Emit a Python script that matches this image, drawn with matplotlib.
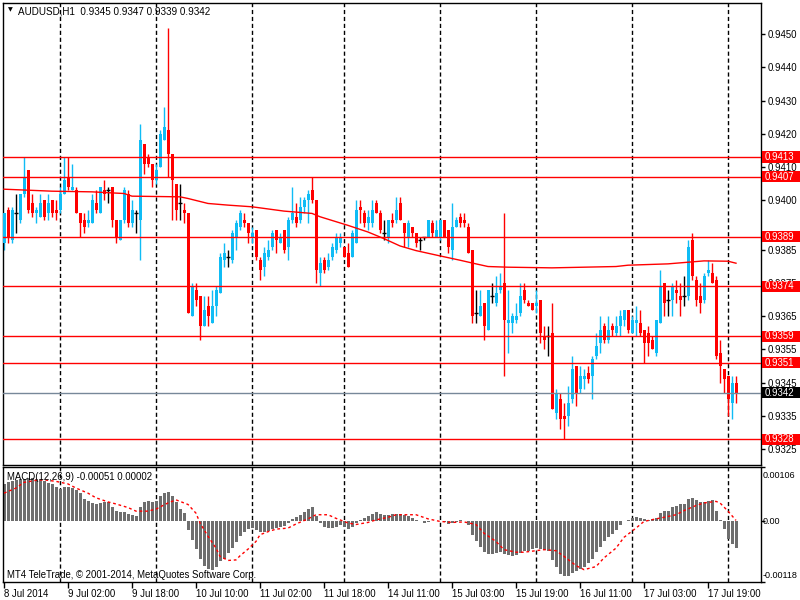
import numpy as np
import matplotlib
matplotlib.use('Agg')
import matplotlib.pyplot as plt
import matplotlib.transforms as mtransforms
from matplotlib.patches import Rectangle

plt.rcParams['font.family'] = ['Liberation Sans', 'DejaVu Sans']
FS = 6.9

# AUDUSD H1 quotes, in pips (1e-4), bar 0 = 8 Jul 2014 10:00
opens = [9387, 9397, 9388, 9396, 9394, 9402, 9409, 9399, 9396, 9395,
         9400, 9396, 9400, 9397, 9397, 9402, 9407, 9403, 9403, 9396,
         9394, 9393, 9393, 9399, 9396, 9403, 9403, 9404, 9394, 9388,
         9394, 9402, 9393, 9396, 9394, 9417, 9413, 9411, 9406, 9410,
         9418, 9421, 9414, 9405, 9399, 9397, 9396, 9365, 9373, 9371,
         9362, 9368, 9363, 9368, 9372, 9382, 9383, 9382, 9389, 9392,
         9394, 9393, 9389, 9391, 9382, 9380, 9383, 9386, 9391, 9387,
         9391, 9386, 9394, 9395, 9394, 9398, 9400, 9403, 9400, 9378,
         9382, 9380, 9383, 9385, 9387, 9386, 9384, 9383, 9387, 9398,
         9396, 9393, 9393, 9399, 9396, 9390, 9389, 9394, 9394, 9399,
         9393, 9389, 9392, 9390, 9388, 9389, 9389, 9393, 9389, 9389,
         9394, 9391, 9385, 9392, 9395, 9394, 9392, 9385, 9366, 9365,
         9369, 9361, 9371, 9369, 9373, 9375, 9363, 9363, 9364, 9366,
         9373, 9369, 9369, 9368, 9370, 9359, 9359, 9360, 9336, 9340,
         9335, 9335, 9340, 9350, 9343, 9346, 9348, 9347, 9353, 9357,
         9362, 9358, 9362, 9360, 9362, 9364, 9367, 9360, 9363, 9363,
         9361, 9360, 9358, 9354, 9363, 9375, 9370, 9370, 9373, 9371,
         9371, 9371, 9388, 9376, 9371, 9370, 9378, 9378, 9376, 9354,
         9349, 9347, 9339, 9345]
highs = [9396, 9398, 9398, 9402, 9402, 9413, 9409, 9402, 9398, 9402,
         9400, 9402, 9400, 9400, 9404, 9413, 9413, 9411, 9404, 9396,
         9396, 9397, 9402, 9403, 9404, 9406, 9404, 9404, 9394, 9394,
         9404, 9403, 9400, 9397, 9423, 9417, 9414, 9411, 9411, 9421,
         9428, 9452, 9414, 9405, 9405, 9399, 9396, 9375, 9375, 9371,
         9371, 9371, 9373, 9374, 9384, 9387, 9385, 9391, 9394, 9397,
         9396, 9393, 9392, 9391, 9383, 9386, 9388, 9391, 9391, 9390,
         9391, 9395, 9404, 9399, 9401, 9401, 9403, 9407, 9400, 9383,
         9383, 9384, 9387, 9390, 9390, 9386, 9387, 9391, 9400, 9400,
         9397, 9397, 9400, 9400, 9397, 9394, 9394, 9396, 9401, 9401,
         9393, 9394, 9392, 9390, 9389, 9389, 9394, 9394, 9394, 9394,
         9394, 9391, 9399, 9395, 9396, 9396, 9393, 9385, 9373, 9373,
         9369, 9373, 9375, 9377, 9378, 9396, 9373, 9366, 9369, 9375,
         9375, 9370, 9369, 9373, 9370, 9362, 9362, 9369, 9343, 9342,
         9339, 9344, 9353, 9350, 9350, 9349, 9350, 9353, 9360, 9365,
         9363, 9365, 9363, 9365, 9367, 9367, 9367, 9365, 9368, 9367,
         9361, 9362, 9359, 9364, 9379, 9375, 9373, 9375, 9376, 9375,
         9377, 9388, 9390, 9377, 9375, 9378, 9382, 9381, 9377, 9358,
         9349, 9347, 9347, 9347]
lows = [9385, 9387, 9387, 9390, 9393, 9401, 9396, 9395, 9393, 9395,
        9394, 9394, 9395, 9394, 9396, 9402, 9403, 9403, 9396, 9389,
        9390, 9392, 9393, 9396, 9396, 9400, 9399, 9392, 9387, 9388,
        9393, 9392, 9392, 9390, 9382, 9408, 9410, 9404, 9405, 9410,
        9418, 9407, 9394, 9394, 9394, 9393, 9366, 9365, 9368, 9358,
        9362, 9362, 9363, 9365, 9372, 9380, 9380, 9381, 9385, 9391,
        9392, 9387, 9387, 9382, 9376, 9377, 9382, 9385, 9384, 9387,
        9384, 9382, 9393, 9392, 9393, 9396, 9393, 9399, 9375, 9374,
        9378, 9379, 9382, 9384, 9386, 9383, 9380, 9383, 9387, 9393,
        9392, 9391, 9392, 9396, 9390, 9388, 9387, 9392, 9393, 9394,
        9386, 9386, 9389, 9386, 9385, 9388, 9389, 9389, 9389, 9388,
        9389, 9384, 9382, 9392, 9392, 9392, 9384, 9363, 9363, 9365,
        9358, 9361, 9369, 9368, 9372, 9347, 9354, 9360, 9363, 9365,
        9369, 9368, 9367, 9366, 9357, 9355, 9353, 9337, 9334, 9331,
        9328, 9332, 9339, 9338, 9342, 9343, 9345, 9340, 9352, 9354,
        9357, 9357, 9359, 9359, 9359, 9362, 9360, 9360, 9359, 9359,
        9351, 9353, 9355, 9353, 9363, 9365, 9365, 9365, 9369, 9365,
        9368, 9370, 9376, 9368, 9366, 9369, 9377, 9375, 9352, 9345,
        9342, 9335, 9334, 9339]
closes = [9396, 9389, 9397, 9396, 9402, 9407, 9397, 9396, 9397, 9399,
          9395, 9399, 9396, 9396, 9402, 9406, 9404, 9404, 9396, 9393,
          9392, 9394, 9400, 9397, 9404, 9402, 9403, 9394, 9389, 9394,
          9403, 9393, 9397, 9396, 9418, 9411, 9411, 9406, 9409, 9420,
          9422, 9414, 9406, 9397, 9399, 9396, 9366, 9374, 9370, 9362,
          9367, 9365, 9368, 9373, 9383, 9384, 9383, 9390, 9393, 9396,
          9393, 9390, 9390, 9383, 9379, 9384, 9385, 9390, 9388, 9389,
          9385, 9394, 9396, 9393, 9398, 9400, 9402, 9400, 9379, 9381,
          9379, 9382, 9386, 9389, 9389, 9383, 9380, 9390, 9397, 9397,
          9393, 9395, 9397, 9396, 9391, 9390, 9394, 9393, 9397, 9394,
          9390, 9393, 9390, 9387, 9388, 9389, 9394, 9390, 9391, 9394,
          9389, 9386, 9392, 9394, 9393, 9393, 9384, 9365, 9366, 9368,
          9362, 9373, 9371, 9372, 9374, 9364, 9364, 9365, 9365, 9371,
          9370, 9368, 9367, 9369, 9360, 9358, 9359, 9337, 9342, 9334,
          9334, 9339, 9349, 9342, 9347, 9347, 9346, 9352, 9356, 9361,
          9358, 9361, 9361, 9362, 9365, 9367, 9361, 9364, 9364, 9360,
          9357, 9357, 9355, 9364, 9374, 9369, 9370, 9374, 9372, 9370,
          9371, 9386, 9377, 9370, 9369, 9377, 9379, 9375, 9353, 9350,
          9346, 9340, 9345, 9342]

# moving average drawn on the price chart (bar index, pips)
ma_idx = [0, 12, 22, 30, 32, 44, 46, 51, 56, 62, 70, 77, 79, 86, 91, 95, 99,
          103, 109, 114, 118, 121, 126, 137, 153, 156, 166, 171, 175, 181, 183]
ma_val = [9403.3, 9402.7, 9402.5, 9402.0, 9401.2, 9401.0, 9400.5, 9399.0,
          9398.5, 9398.0, 9396.7, 9396.0, 9395.0, 9392.4, 9390.4, 9388.4,
          9386.2, 9384.8, 9383.2, 9381.9, 9380.8, 9380.0, 9379.8, 9379.6,
          9380.0, 9380.4, 9380.8, 9381.3, 9381.7, 9381.6, 9381.0]

# MACD(12,26,9) histogram, in 1e-5
macd = [72, 76, 78, 81, 83, 83, 85, 85, 83, 81, 78, 75, 72, 67, 64, 67, 68, 66,
        62, 55, 44, 39, 36, 34, 36, 37, 37, 29, 21, 18, 18, 14, 12, 10, 29, 38,
        39, 37, 39, 49, 55, 57, 49, 37, 24, 16, -16, -36, -54, -73, -86, -93,
        -94, -88, -78, -73, -62, -52, -41, -29, -20, -15, -13, -16, -20, -20,
        -18, -15, -12, -10, -8, -3, 5, 8, 13, 18, 24, 29, 10, -3, -10, -13,
        -13, -10, -6, -10, -15, -10, -3, 3, 6, 11, 15, 18, 15, 13, 13, 14, 15,
        15, 13, 11, 6, 2, 0, -3, -1, 0, 1, 0, -2, -5, -3, -1, 2, 1, -6, -26,
        -39, -50, -60, -63, -63, -62, -60, -63, -66, -67, -66, -62, -58, -57,
        -54, -52, -54, -55, -58, -76, -88, -102, -107, -106, -101, -96, -93,
        -88, -81, -73, -60, -50, -39, -31, -24, -16, -6, 0, 3, 6, 8, 6, 5, 2,
        5, 6, 16, 20, 21, 28, 31, 33, 33, 44, 46, 42, 37, 38, 39, 41, 20, 3,
        -14, -34, -44, -51]
sig_idx = [0, 3, 5, 8, 10, 13, 16, 18, 21, 23, 26, 28, 31, 33, 36, 38, 41, 43,
           46, 48, 49, 51, 53, 54, 56, 58, 59, 61, 63, 64, 66, 68, 71, 73, 76,
           78, 81, 83, 86, 88, 91, 93, 96, 98, 103, 106, 109, 112, 115, 118,
           120, 123, 125, 128, 130, 133, 135, 138, 140, 143, 145, 148, 150,
           153, 155, 158, 160, 163, 165, 168, 170, 173, 175, 178, 179, 181, 183]
sig_val = [55, 65, 76, 80, 81, 78, 73, 65, 55, 46, 38, 34, 27, 20, 20, 24, 36,
           42, 33, 16, -3, -29, -52, -68, -76, -75, -67, -54, -39, -26, -20,
           -15, -13, -5, 5, 13, 13, 6, -3, -6, -2, 3, 8, 13, 13, 5, 0, -2, -1,
           -6, -23, -39, -55, -60, -60, -57, -55, -57, -68, -86, -94, -88, -71,
           -52, -31, -13, 0, 5, 8, 13, 21, 31, 36, 39, 36, 20, 2]

# horizontal levels drawn on the chart
levels = [0.9413, 0.9407, 0.9389, 0.9374, 0.9359, 0.9351, 0.9328]
bid = 0.9342

# period separators (day starts) and time-axis labels
sep_idx = [14, 38, 62, 85, 109, 133, 157, 181]
date_idx = [0, 16, 32, 48, 64, 80, 96, 112, 128, 144, 160, 176]
date_lbl = ['8 Jul 2014', '9 Jul 02:00', '9 Jul 18:00', '10 Jul 10:00',
            '11 Jul 02:00', '11 Jul 18:00', '14 Jul 11:00', '15 Jul 03:00',
            '15 Jul 19:00', '16 Jul 11:00', '17 Jul 03:00', '17 Jul 19:00']
price_ticks = [0.9450, 0.9440, 0.9430, 0.9420, 0.9410, 0.9400, 0.9385,
               0.9375, 0.9365, 0.9355, 0.9345, 0.9335, 0.9325]

BULL = '#0FBCF5'
BEAR = '#FF0000'

o = np.array(opens) / 1e4
h = np.array(highs) / 1e4
l = np.array(lows) / 1e4
c = np.array(closes) / 1e4
idx = np.arange(len(o))

fig = plt.figure(figsize=(8, 6), dpi=100)
ax = fig.add_axes([3 / 800, 135 / 600, 758 / 800, 462 / 600])
ax2 = fig.add_axes([3 / 800, 18 / 600, 758 / 800, 115 / 600])

for a in (ax, ax2):
    a.set_xlim(-0.25, 189.25)
    for s in a.spines.values():
        s.set_color('black')
        s.set_linewidth(1)
    for x in sep_idx:
        a.axvline(x, color='black', lw=1, ls=(0, (3, 2)), zorder=0.5)

# price panel
ax.set_ylim(0.93202, 0.94594)
up = c > o
dn = c < o
dj = c == o
for mask, col in ((up, BULL), (dn, BEAR), (dj, 'black')):
    ax.vlines(idx[mask], l[mask], h[mask], color=col, lw=1, zorder=2)
ax.bar(idx[up], (c - o)[up], bottom=o[up], width=0.75, color=BULL, lw=0, zorder=3)
ax.bar(idx[dn], (o - c)[dn], bottom=c[dn], width=0.75, color=BEAR, lw=0, zorder=3)
ax.hlines(c[dj], idx[dj] - 0.4, idx[dj] + 0.4, color='black', lw=1, zorder=3)

ax.plot(ma_idx, np.array(ma_val) / 1e4, color=BEAR, lw=1, zorder=4)
for lv in levels:
    ax.axhline(lv, color=BEAR, lw=1, zorder=4)
ax.axhline(bid, color='#778899', lw=1, zorder=4)

ax.set_xticks([])
ax.yaxis.tick_right()
ax.set_yticks(price_ticks)
ax.set_yticklabels([f'{v:.4f}' for v in price_ticks])
ax.tick_params(axis='y', length=3, width=1, labelsize=FS, pad=1.5, colors='black')

# price boxes on the right scale
tr = mtransforms.blended_transform_factory(ax.transAxes, ax.transData)
half = 0.000168
for lv, fc in [(v, BEAR) for v in levels] + [(bid, 'black')]:
    ax.add_patch(Rectangle((1 + 1 / 758, lv - half), 39 / 758, 2 * half,
                           transform=tr, facecolor=fc, edgecolor='none',
                           clip_on=False, zorder=5))
    ax.text(1 + 4 / 758, lv, f'{lv:.4f}', transform=tr, color='white',
            fontsize=FS, va='center', ha='left', zorder=6, clip_on=False)

fig.text(10 / 800, 1 - 10 / 600, '\u25bc', fontsize=4.5, va='center', ha='center',
         family='DejaVu Sans')
fig.text(18 / 800, 1 - 11 / 600, 'AUDUSD,H1  0.9345 0.9347 0.9339 0.9342',
         fontsize=FS + 0.2, va='center', ha='left')

# MACD panel
ax2.set_ylim(-0.00118, 0.00106)
ax2.bar(idx, np.array(macd) * 1e-5, width=0.75, color='#6E6E6E', lw=0, zorder=2)
ax2.plot(sig_idx, np.array(sig_val) * 1e-5, color=BEAR, lw=1, ls=(0, (2, 2)), zorder=3)
ax2.yaxis.tick_right()
ax2.set_yticks([-0.00118, 0.0, 0.00106])
ax2.tick_params(axis='y', length=3, width=1, labelright=False)
for py, txt in ((475, '0.00106'), (521, '0.00'), (576, '-0.00118')):
    fig.text(763 / 800, 1 - py / 600, txt, fontsize=FS - 0.4, va='center', ha='left')

ax2.set_xticks(date_idx)
ax2.set_xticklabels(date_lbl, ha='left')
ax2.tick_params(axis='x', length=4, width=1, labelsize=FS, pad=1, colors='black')

fig.text(7 / 800, 1 - 477 / 600, 'MACD(12,26,9) -0.00051 0.00002',
         fontsize=FS, va='center', ha='left')
fig.text(7 / 800, 1 - 575 / 600,
         'MT4 TeleTrade, \u00a9 2001-2014, MetaQuotes Software Corp.',
         fontsize=FS, va='center', ha='left')

fig.savefig('out.png', dpi=100, facecolor='white')
